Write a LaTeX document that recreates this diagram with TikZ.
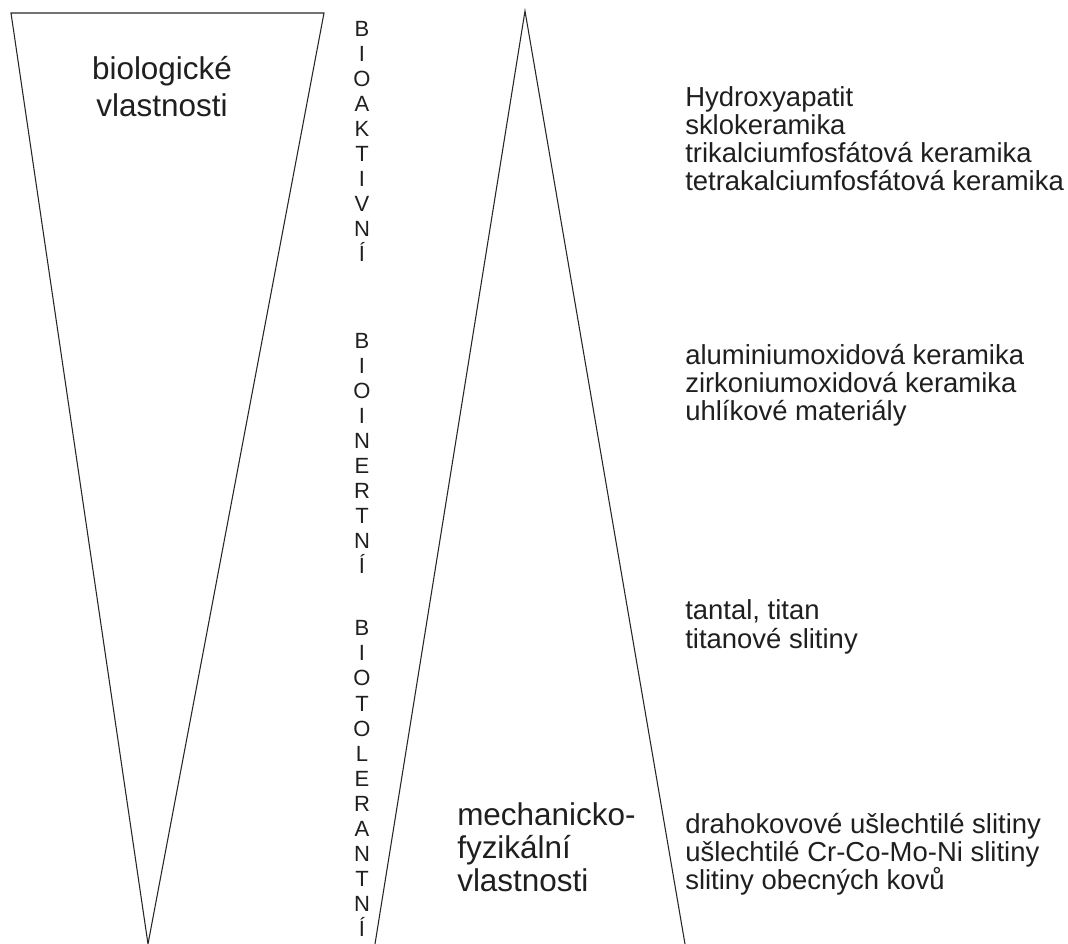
\documentclass[tikz,border=0pt]{standalone}
\usepackage{fontspec}
\setmainfont{Liberation Sans}
\begin{document}
\begin{tikzpicture}[x=0.75pt,y=-0.75pt,
	every node/.style={inner sep=0pt,text=black!88},
	letter/.style={anchor=base,font=\fontsize{16.5}{18}\selectfont},
	label/.style={anchor=base,font=\fontsize{23.6}{28}\selectfont},
	item/.style={anchor=base west,font=\fontsize{20.6}{24}\selectfont},
	edge/.style={draw=black!85,line width=0.8pt}]
	\useasboundingbox (0,0) rectangle (1068,944);
	
	%TRIANGLES
	\draw[edge] (11,13)--(324,13)--(148,944)--cycle;	%biologicke
	\draw[edge] (375,944)--(525,11)--(685,944);		%mechanicke (open at the bottom)
	
	%VERTICAL WORDS
	\foreach \c [count=\i] in {B,I,O,A,K,T,I,V,N,Í}
		\node[letter] (akt-\i) at (362,{37+25*(\i-1)}) {\c};
	\foreach \c [count=\i] in {B,I,O,I,N,E,R,T,N,Í}
		\node[letter] (ine-\i) at (362,{349+25*(\i-1)}) {\c};
	\foreach \c [count=\i] in {B,I,O,T,O,L,E,R,A,N,T,N,Í}
		\node[letter] (tol-\i) at (362,{636+25*(\i-1)}) {\c};
	
	%LABELS
	\node[label] (bio-1) at (162,80) {biologické};
	\node[label] (bio-2) at (162,117) {vlastnosti};
	%
	\node[label,anchor=base west] (mech-1) at (457,825) {mechanicko-};
	\node[label,anchor=base west] (mech-2) at (457,858) {fyzikální};
	\node[label,anchor=base west] (mech-3) at (457,891) {vlastnosti};
	
	%MATERIALS
	\foreach \t [count=\i] in {Hydroxyapatit,sklokeramika,trikalciumfosfátová keramika,tetrakalciumfosfátová keramika}
		\node[item] (akt-mat-\i) at (685,{107+28*(\i-1)}) {\t};
	\foreach \t [count=\i] in {aluminiumoxidová keramika,zirkoniumoxidová keramika,uhlíkové materiály}
		\node[item] (ine-mat-\i) at (685,{365+28*(\i-1)}) {\t};
	\foreach \t [count=\i] in {{tantal, titan},titanové slitiny}
		\node[item] (tol-mat-\i) at (685,{620+28*(\i-1)}) {\t};
	\foreach \t [count=\i] in {drahokovové ušlechtilé slitiny,ušlechtilé Cr-Co-Mo-Ni slitiny,slitiny obecných kovů}
		\node[item] (tol-mat-\the\numexpr\i+2\relax) at (685,{833+28*(\i-1)}) {\t};
\end{tikzpicture}
\end{document}
